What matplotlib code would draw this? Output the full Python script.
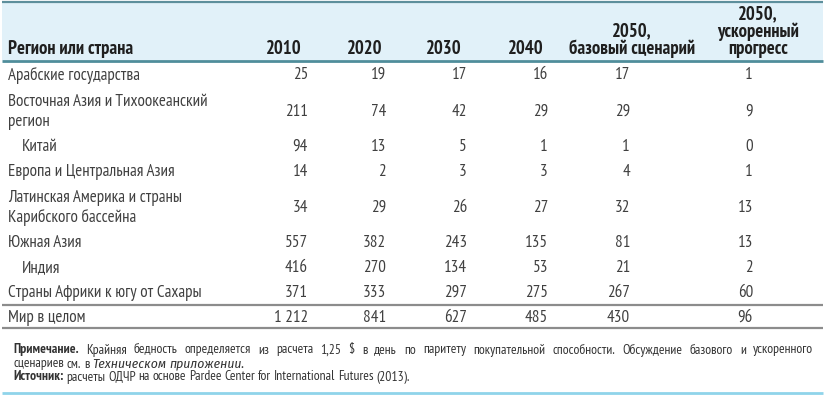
import matplotlib
matplotlib.use("Agg")
import matplotlib.pyplot as plt
from matplotlib.patches import Rectangle

FAM = ['PT Sans Narrow', 'DejaVu Sans']
FAM_IT = ['Fira Sans Condensed', 'PT Sans Narrow', 'DejaVu Sans']
plt.rcParams['font.family'] = FAM

# ---- data ----
regions = ["Арабские государства",
           "Восточная Азия и Тихоокеанский\nрегион",
           "Китай",
           "Европа и Центральная Азия",
           "Латинская Америка и страны\nКарибского бассейна",
           "Южная Азия",
           "Индия",
           "Страны Африки к югу от Сахары",
           "Мир в целом"]
indented = [False, False, True, False, False, False, True, False, False]
col_headers = ["2010", "2020", "2030", "2040",
               "2050,\nбазовый сценарий", "2050,\nускоренный\nпрогресс"]
v2010 = [25, 211, 94, 14, 34, 557, 416, 371, 1212]
v2020 = [19, 74, 13, 2, 29, 382, 270, 333, 841]
v2030 = [17, 42, 5, 3, 26, 243, 134, 297, 627]
v2040 = [16, 29, 1, 3, 27, 135, 53, 275, 485]
v2050_base = [17, 29, 1, 4, 32, 81, 21, 267, 430]
v2050_fast = [1, 9, 0, 1, 13, 13, 2, 60, 96]
first_header = "Регион или страна"
note_label = "Примечание."
note_text = ("Крайняя бедность определяется из расчета 1,25 $ в день по паритету "
             "покупательной способности. Обсуждение базового и ускоренного")
note_line2 = "сценариев см. в"
note_italic = "Техническом приложении."
source_label = "Источник:"
source_text = "расчеты ОДЧР на основе Pardee Center for International Futures (2013)."

columns = [v2010, v2020, v2030, v2040, v2050_base, v2050_fast]

# ---- canvas in pixel coordinates ----
W, H = 826, 401
fig = plt.figure(figsize=(W / 100, H / 100), dpi=100)
ax = fig.add_axes([0, 0, 1, 1])
ax.set_xlim(0, W)
ax.set_ylim(H, 0)
ax.axis('off')
fig.canvas.draw()
renderer = fig.canvas.get_renderer()


def text_width(s, size, weight='normal', style='normal', family=FAM):
    t = ax.text(0, 0, s, fontsize=size, fontweight=weight, fontstyle=style, family=family)
    w = t.get_window_extent(renderer).width
    t.remove()
    return w


def fit(s, target, weight='normal'):
    return 10 * target / text_width(s, 10, weight)


FS = fit("Страны Африки к югу от Сахары", 197)
HFS = fit("Регион или страна", 126, 'bold')
NFS = fit(source_text, 345)

TXT = '#404040'
HDR = '#1f1f1f'
NC = '#333333'

# header background and rules
ax.add_patch(Rectangle((2, 2), 821, 58, facecolor='#e1f1f9', edgecolor='none', zorder=0))
ax.plot([2, 823], [2, 2], color='#5d8f9c', lw=1.6, solid_capstyle='butt')
ax.plot([2, 823], [60.5, 60.5], color='#4f8d9b', lw=2.0, solid_capstyle='butt')
ax.plot([2, 823], [305, 305], color='#8c8c8c', lw=1.6, solid_capstyle='butt')
ax.plot([2, 823], [328, 328], color='#8c8c8c', lw=1.6, solid_capstyle='butt')
ax.plot([2, 823], [392.5, 392.5], color='#8fd4ea', lw=2.0, solid_capstyle='butt')

# headers
HDR_BOTTOM = 48.5
HDR_STEP = 17
ax.text(8, HDR_BOTTOM, first_header, fontsize=HFS, fontweight='bold', color=HDR,
        ha='left', va='center')
hdr_x = [284, 365, 444, 526, 632, 758]
for hx, h in zip(hdr_x, col_headers):
    lines = h.split("\n")
    for k, ln in enumerate(reversed(lines)):
        ax.text(hx, HDR_BOTTOM - k * HDR_STEP, ln, fontsize=HFS, fontweight='bold',
                color=HDR, ha='center', va='center')

# rows
row_y = [75, 112, 147, 172, 208, 243, 268, 293, 318]
num_right = [308, 386, 467, 548, 630, 753]
LINE_STEP = 19
for i, name in enumerate(regions):
    x = 22 if indented[i] else 8
    lines = name.split("\n")
    top = row_y[i] - (len(lines) - 1) * LINE_STEP / 2
    for k, ln in enumerate(lines):
        ax.text(x, top + k * LINE_STEP, ln, fontsize=FS, color=TXT, ha='left', va='center')
    for cx, col in zip(num_right, columns):
        s = f"{col[i]:,}".replace(",", " ")
        ax.text(cx, row_y[i], s, fontsize=FS, color=TXT, ha='right', va='center')

# notes (word-by-word so that the first line can be justified)
space = text_width("a a", NFS) - text_width("aa", NFS)


def layout(x0, x1, y, pieces, justify):
    ts = []
    for txt, wt, st in pieces:
        fam = FAM_IT if st == 'italic' else FAM
        for w in txt.split(" "):
            ts.append(ax.text(0, y, w, fontsize=NFS, fontweight=wt, fontstyle=st,
                              family=fam, color=NC, ha='left', va='center'))
    ws = [t.get_window_extent(renderer).width for t in ts]
    gap = (x1 - x0 - sum(ws)) / (len(ts) - 1) if justify else space
    x = x0
    for t, w in zip(ts, ws):
        t.set_x(x)
        x += w + gap


layout(13, 813, 350, [(note_label, 'bold', 'normal'), (note_text, 'normal', 'normal')], True)
layout(13, 813, 364, [(note_line2, 'normal', 'normal'), (note_italic, 'normal', 'italic')], False)
layout(13, 813, 377, [(source_label, 'bold', 'normal'), (source_text, 'normal', 'normal')], False)

fig.savefig("out.png", dpi=100)
